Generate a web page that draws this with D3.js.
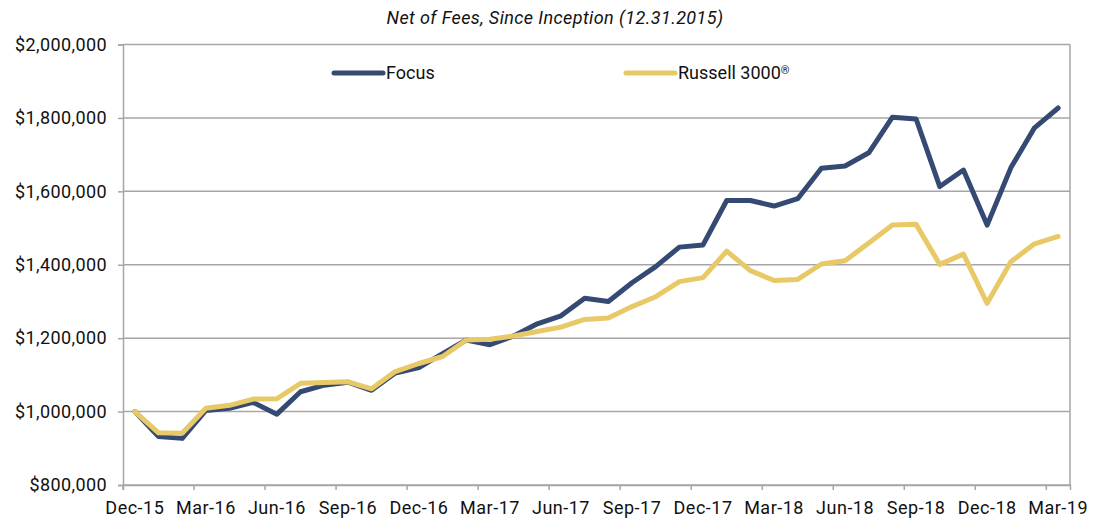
<!DOCTYPE html>
<html>
<head>
<meta charset="utf-8">
<script src="https://cdn.jsdelivr.net/npm/d3@7"></script>
<style>
  body { margin: 0; background: #fff; }
  svg { display: block; font-family: Roboto, "Noto Sans", sans-serif; }
</style>
</head>
<body>
<div class="containers"></div>
<script>
const months = [
  'Dec-15', 'Jan-16', 'Feb-16', 'Mar-16', 'Apr-16', 'May-16', 'Jun-16', 'Jul-16', 'Aug-16', 'Sep-16',
  'Oct-16', 'Nov-16', 'Dec-16', 'Jan-17', 'Feb-17', 'Mar-17', 'Apr-17', 'May-17', 'Jun-17', 'Jul-17',
  'Aug-17', 'Sep-17', 'Oct-17', 'Nov-17', 'Dec-17', 'Jan-18', 'Feb-18', 'Mar-18', 'Apr-18', 'May-18',
  'Jun-18', 'Jul-18', 'Aug-18', 'Sep-18', 'Oct-18', 'Nov-18', 'Dec-18', 'Jan-19', 'Feb-19', 'Mar-19'
]
const focus = [
  1000000, 932000, 927000, 1003000, 1009000, 1025000, 993000, 1054000, 1072000, 1080000,
  1058000, 1105000, 1120000, 1158000, 1195000, 1182000, 1206000, 1239000, 1261000, 1309000,
  1300000, 1351000, 1395000, 1448000, 1454000, 1575000, 1575000, 1560000, 1580000, 1663000,
  1669000, 1705000, 1802000, 1797000, 1613000, 1658000, 1508000, 1664000, 1773000, 1827000
]
const russell = [
  1000000, 942000, 941000, 1009000, 1017000, 1034000, 1035000, 1077000, 1079000, 1081000,
  1062000, 1109000, 1131000, 1150000, 1195000, 1197000, 1206000, 1218000, 1230000, 1251000,
  1255000, 1286000, 1313000, 1354000, 1365000, 1437000, 1384000, 1357000, 1360000, 1402000,
  1411000, 1459000, 1508000, 1510000, 1401000, 1429000, 1295000, 1408000, 1457000, 1477000
]
const yTicks = [800000, 1000000, 1200000, 1400000, 1600000, 1800000, 2000000]
const xTickLabels = months.filter((d, i) => i % 3 === 0)

const width = 1108
const height = 522
const plotLeft = 123, plotRight = 1070, plotTop = 44.5, plotBottom = 485
const gridColor = '#a6a6a6'
const focusColor = '#354a72'
const russellColor = '#e8c967'
const textColor = '#111'

const x = d3.scaleBand().domain(months).range([plotLeft, plotRight]).padding(0)
const y = d3.scaleLinear().domain([800000, 2000000]).range([plotBottom, plotTop])
const bw = x.bandwidth()

const svg = d3
  .select('.containers')
  .append('svg')
  .attr('width', width)
  .attr('height', height)

// title
svg.append('text')
  .attr('x', 555)
  .attr('y', 24)
  .attr('text-anchor', 'middle')
  .attr('font-size', 18)
  .attr('letter-spacing', 0.4)
  .attr('font-style', 'italic')
  .attr('fill', textColor)
  .text('Net of Fees, Since Inception (12.31.2015)')

// horizontal grid
svg.append('g')
  .selectAll('line')
  .data(yTicks)
  .join('line')
  .attr('x1', plotLeft)
  .attr('x2', plotRight)
  .attr('y1', d => y(d))
  .attr('y2', d => y(d))
  .attr('stroke', gridColor)
  .attr('stroke-width', 1.5)

// right border
svg.append('line')
  .attr('x1', plotRight).attr('x2', plotRight)
  .attr('y1', plotTop).attr('y2', plotBottom)
  .attr('stroke', gridColor)
  .attr('stroke-width', 1.5)

// y axis
const yAxis = svg.append('g')
  .attr('transform', `translate(${plotLeft},0)`)
  .call(d3.axisLeft(y).tickValues(yTicks).tickSize(5).tickPadding(11).tickFormat(d => '$' + d3.format(',')(d)))
yAxis.select('.domain').attr('stroke', gridColor).attr('stroke-width', 1.5)
yAxis.selectAll('.tick line').attr('stroke', gridColor).attr('stroke-width', 1.5)
yAxis.selectAll('.tick text')
  .attr('font-size', 18)
  .attr('letter-spacing', 0.4)
  .attr('fill', textColor)
  .attr('font-family', 'Roboto, sans-serif')

// x axis: labels at category centres, tick marks at category edges
const xAxis = svg.append('g')
  .attr('transform', `translate(0,${plotBottom})`)
  .call(d3.axisBottom(x).tickValues(xTickLabels).tickSize(5).tickPadding(11))
xAxis.select('.domain').attr('stroke', gridColor).attr('stroke-width', 1.5)
xAxis.selectAll('.tick line')
  .attr('x1', -bw / 2).attr('x2', -bw / 2)
  .attr('stroke', gridColor)
  .attr('stroke-width', 1.5)
xAxis.selectAll('.tick text')
  .attr('font-size', 18)
  .attr('letter-spacing', 0.5)
  .attr('fill', textColor)
  .attr('font-family', 'Roboto, sans-serif')

const line = d3.line()
  .x((d, i) => x(months[i]) + bw / 2)
  .y(d => y(d))

svg.append('path')
  .datum(focus)
  .attr('d', line)
  .attr('fill', 'none')
  .attr('stroke', focusColor)
  .attr('stroke-width', 5)
  .attr('stroke-linejoin', 'round')
  .attr('stroke-linecap', 'round')

svg.append('path')
  .datum(russell)
  .attr('d', line)
  .attr('fill', 'none')
  .attr('stroke', russellColor)
  .attr('stroke-width', 5)
  .attr('stroke-linejoin', 'round')
  .attr('stroke-linecap', 'round')

// legend
const legend = [
  { name: 'Focus', color: focusColor, x: 334 },
  { name: 'Russell 3000', color: russellColor, x: 626, sup: '®' }
]
const lg = svg.append('g')
  .selectAll('g')
  .data(legend)
  .join('g')
  .attr('transform', d => `translate(${d.x},73)`)
lg.append('line')
  .attr('x1', 0).attr('x2', 49)
  .attr('stroke', d => d.color)
  .attr('stroke-width', 5)
  .attr('stroke-linecap', 'round')
const lt = lg.append('text')
  .attr('x', 52)
  .attr('dy', '0.35em')
  .attr('font-size', 18)
  .attr('fill', textColor)
  .text(d => d.name)
lt.filter(d => d.sup)
  .append('tspan')
  .attr('font-size', 11)
  .attr('dy', '-0.5em')
  .text(d => d.sup)
</script>
</body>
</html>
